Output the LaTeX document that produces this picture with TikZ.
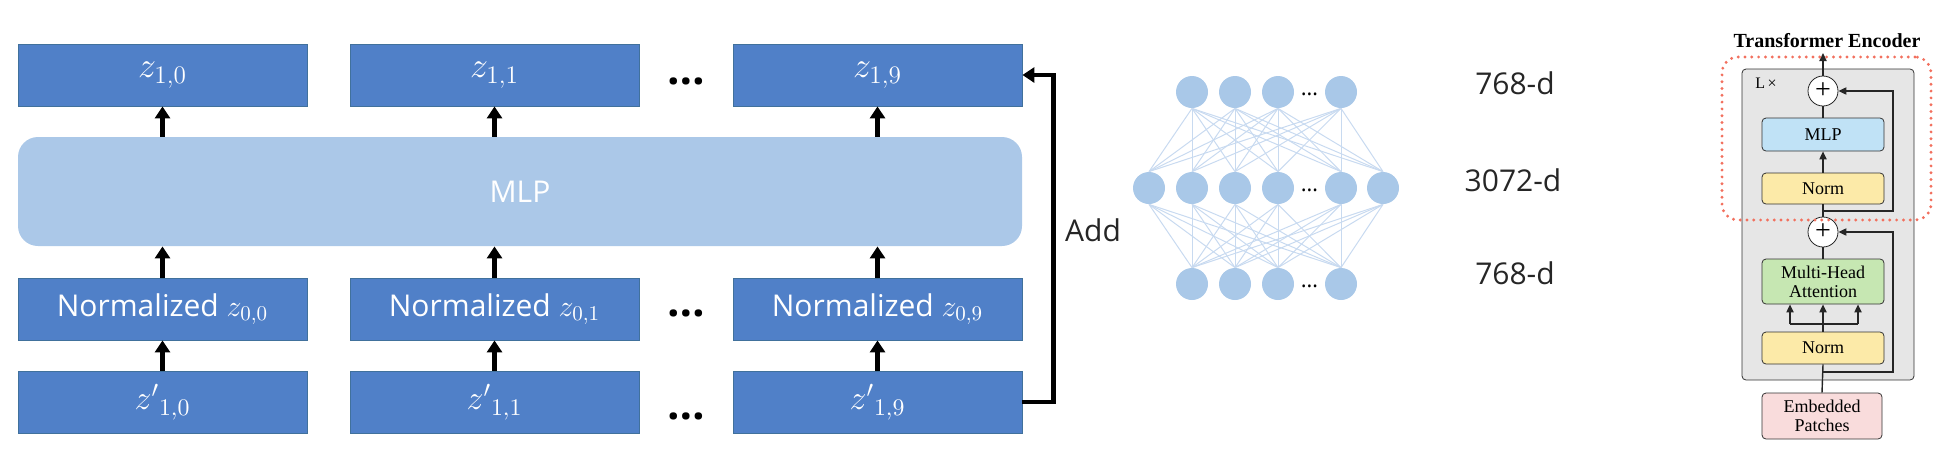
\RequirePackage{fix-cm}
\documentclass[tikz,border=0pt]{standalone}
\usepackage{fontspec}
\setmainfont{Open Sans}
\newfontfamily\vitfont{Liberation Serif}
\usetikzlibrary{arrows.meta}

\definecolor{tokblue}{HTML}{5080C8}
\definecolor{tokedge}{HTML}{41719C}
\definecolor{mlpblue}{HTML}{ABC8E8}
\definecolor{neuron}{HTML}{A9C8E8}
\definecolor{synapse}{HTML}{C8DAF0}
\definecolor{encgray}{HTML}{E6E6E6}
\definecolor{encmlp}{HTML}{C0E2F6}
\definecolor{encnorm}{HTML}{FCEAA8}
\definecolor{encattn}{HTML}{C6E7B2}
\definecolor{encpatch}{HTML}{F9DCDC}
\definecolor{encred}{HTML}{F2705E}

\newcommand{\bigz}{\fontsize{18}{20}\selectfont}
\newcommand{\midz}{\fontsize{17}{20}\selectfont}

\tikzset{
  token/.style={draw=tokedge, fill=tokblue, text=white, inner sep=0pt,
    minimum width=144.5pt, minimum height=31pt, font=\fontsize{15}{18}\selectfont},
  bigarrow/.style={line width=2.4pt, -{Triangle[length=6pt,width=7.5pt]}},
  gap/.style={font=\fontsize{22}{22}\selectfont\bfseries, anchor=base, inner sep=0pt},
  unit/.style={circle, fill=neuron, minimum size=16pt, inner sep=0pt},
  link/.style={draw=synapse, line width=0.5pt},
  dimlabel/.style={font=\fontsize{15}{18}\selectfont, text=black!85},
  encblock/.style={draw=black!80, rounded corners=2pt, minimum width=61pt,
    inner sep=0pt, align=center, font=\vitfont\fontsize{9}{9.5}\selectfont},
  encplus/.style={circle, draw=black!85, fill=white, minimum size=15pt,
    inner sep=0pt, font=\vitfont\fontsize{14}{14}\selectfont},
  encline/.style={draw=black!85, line width=0.7pt},
  encarrow/.style={encline, -{Triangle[length=4pt,width=3.6pt]}},
}

\begin{document}
\begin{tikzpicture}[x=0.5pt,y=-0.5pt]
  \useasboundingbox (0,0) rectangle (1960,462);

  %% outputs
  \node (out0) at (162.5,75) [token] {\bigz$z_{1,0}$};
  \node (out1) at (494.5,75) [token] {\bigz$z_{1,1}$};
  \node (out9) at (877.5,75) [token] {\bigz$z_{1,9}$};
  \node (gap1) at (686,84.5) [gap] {…};

  %% shared MLP
  \node (mlp) at (520,191.5) [fill=mlpblue, rounded corners=10pt,
    minimum width=502pt, minimum height=54.5pt, text=white,
    font=\fontsize{15}{18}\selectfont] {MLP};

  %% normalized inputs
  \node (nrm0) at (162.5,309) [token] {Normalized $z_{0,0}$};
  \node (nrm1) at (494.5,309) [token] {Normalized $z_{0,1}$};
  \node (nrm9) at (877.5,309) [token] {Normalized $z_{0,9}$};
  \node (gap2) at (686,316.5) [gap] {…};

  %% residual inputs
  \node (in0) at (162.5,402) [token] {\midz${z'}_{1,0}$};
  \node (in1) at (494.5,402) [token] {\midz${z'}_{1,1}$};
  \node (in9) at (877.5,402) [token] {\midz${z'}_{1,9}$};
  \node (gap3) at (686,419.5) [gap] {…};

  \draw[bigarrow] (mlp.north -| out0) -- (out0.south);
  \draw[bigarrow] (mlp.north -| out1) -- (out1.south);
  \draw[bigarrow] (mlp.north -| out9) -- (out9.south);
  \draw[bigarrow] (nrm0.north) -- (mlp.south -| nrm0);
  \draw[bigarrow] (nrm1.north) -- (mlp.south -| nrm1);
  \draw[bigarrow] (nrm9.north) -- (mlp.south -| nrm9);
  \draw[bigarrow] (in0.north) -- (nrm0.south);
  \draw[bigarrow] (in1.north) -- (nrm1.south);
  \draw[bigarrow] (in9.north) -- (nrm9.south);

  %% skip connection
  \draw[bigarrow] (in9.east) -- ++(31,0) |- (out9.east);
  \node (add) at (1093,230) [font=\fontsize{15}{18}\selectfont, text=black!85] {Add};

  %% network picture
  \node (t1) at (1192,92) [unit] {};
  \node (t2) at (1235,92) [unit] {};
  \node (t3) at (1278,92) [unit] {};
  \node (t4) at (1341,92) [unit] {};
  \node (m1) at (1149,188) [unit] {};
  \node (m2) at (1192,188) [unit] {};
  \node (m3) at (1235,188) [unit] {};
  \node (m4) at (1278,188) [unit] {};
  \node (m5) at (1341,188) [unit] {};
  \node (m6) at (1383,188) [unit] {};
  \node (b1) at (1192,284) [unit] {};
  \node (b2) at (1235,284) [unit] {};
  \node (b3) at (1278,284) [unit] {};
  \node (b4) at (1341,284) [unit] {};
  \foreach \i in {1,...,4}
    \foreach \j in {1,...,6} {
      \draw[link] (t\i.south) -- (m\j.north);
      \draw[link] (m\j.south) -- (b\i.north);
    }
  \node (tdots) at (1309.5,95) [anchor=base, inner sep=0pt, font=\fontsize{11}{11}\selectfont] {…};
  \node (mdots) at (1309.5,191) [anchor=base, inner sep=0pt, font=\fontsize{11}{11}\selectfont] {…};
  \node (bdots) at (1309.5,287) [anchor=base, inner sep=0pt, font=\fontsize{11}{11}\selectfont] {…};

  \node (dim1) at (1515,83) [dimlabel] {768-d};
  \node (dim2) at (1513,180) [dimlabel] {3072-d};
  \node (dim3) at (1515,273) [dimlabel] {768-d};

  %% transformer encoder
  \node (tenc) at (1827,41) [font=\vitfont\fontsize{10}{12}\selectfont\bfseries] {Transformer Encoder};
  \node (tbox) at (1828,224.5) [draw=black!80, fill=encgray, rounded corners=2pt,
    minimum width=86pt, minimum height=155.5pt] {};
  \node (lx) at (1766,83) [font=\vitfont\fontsize{8}{8}\selectfont] {L\,×};
  \node (plusA) at (1823,91) [encplus] {+};
  \node (tmlp) at (1823,134.5) [encblock, fill=encmlp, minimum height=16.5pt] {MLP};
  \node (tnorm1) at (1823,188.5) [encblock, fill=encnorm, minimum height=15.5pt] {Norm};
  \node (plusB) at (1823,232) [encplus] {+};
  \node (mha) at (1823,281.5) [encblock, fill=encattn, minimum height=22.5pt] {Multi-Head\\Attention};
  \node (tnorm2) at (1823,348) [encblock, fill=encnorm, minimum height=16pt] {Norm};
  \node (embed) at (1822,416) [encblock, fill=encpatch, minimum width=60pt, minimum height=23pt] {Embedded\\Patches};
  \coordinate (tout) at (1823,53);
  \coordinate (resA) at (1823,211);
  \coordinate (resAr) at (1893,211);
  \coordinate (resB) at (1823,372);
  \coordinate (resBr) at (1893,372);
  \coordinate (split) at (1823,324);
  \coordinate (brL) at (1790,324);
  \coordinate (brR) at (1858,324);

  \draw[encarrow] (plusA.north) -- (tout);
  \draw[encline] (tmlp.north) -- (plusA.south);
  \draw[encarrow] (tnorm1.north) -- (tmlp.south);
  \draw[encline] (plusB.north) -- (tnorm1.south);
  \draw[encarrow] (resA) -- (resAr) |- (plusA.east);
  \draw[encline] (mha.north) -- (plusB.south);
  \draw[encarrow] (tnorm2.north) -- (mha.south);
  \draw[encline] (brL) -- (brR);
  \draw[encarrow] (brL) -- (brL |- mha.south);
  \draw[encarrow] (brR) -- (brR |- mha.south);
  \draw[encline] (embed.north) -- (tnorm2.south);
  \draw[encarrow] (resB) -- (resBr) |- (plusB.east);

  %% highlighted block
  \node (focus) at (1826.5,138.5) [draw=encred, line width=1.6pt, line cap=round,
    dash pattern=on 0pt off 3.4pt, rounded corners=8pt,
    minimum width=104.5pt, minimum height=81.5pt] {};
\end{tikzpicture}
\end{document}
